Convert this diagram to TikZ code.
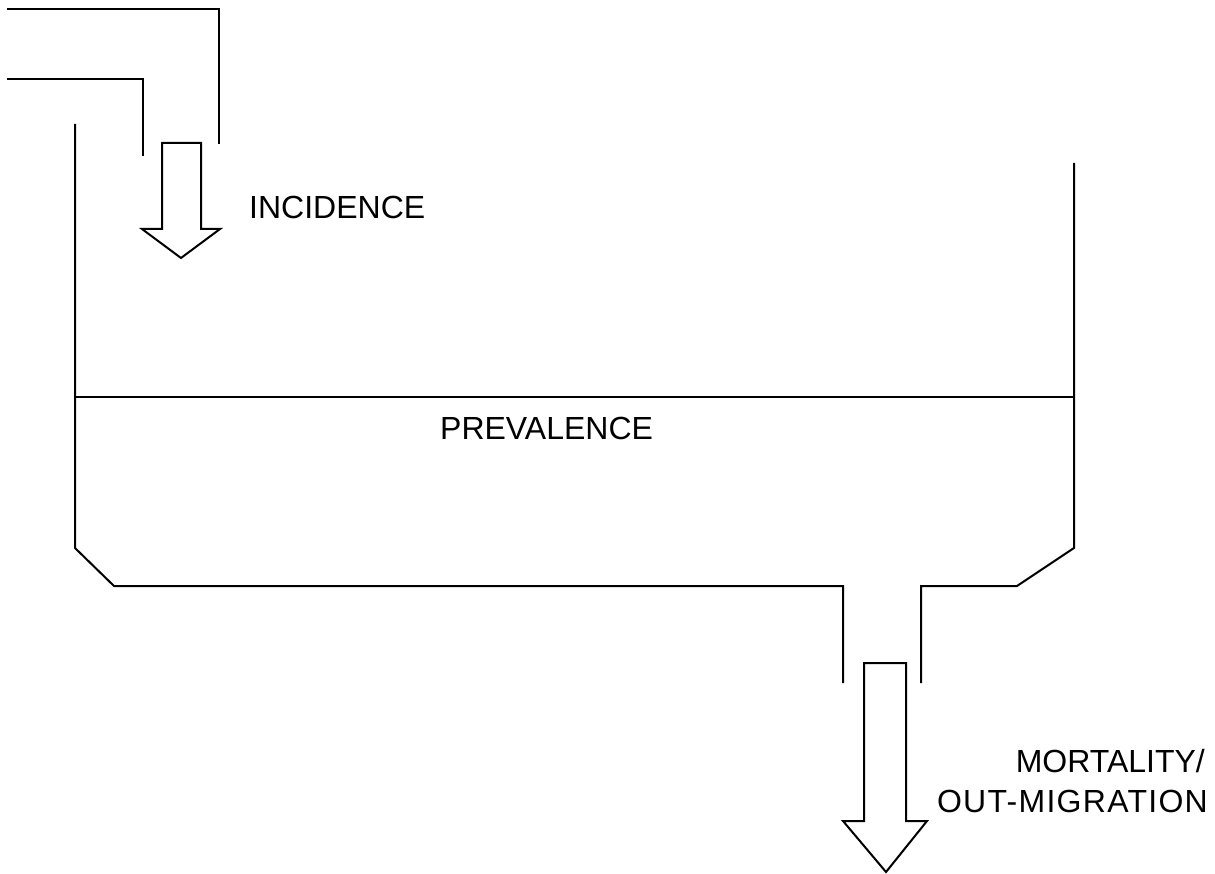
\documentclass[tikz,border=0pt]{standalone}
\usepackage{fontspec}
\setmainfont{Liberation Sans}
\begin{document}
\begin{tikzpicture}[x=1pt,y=-1pt,
  wall/.style={line width=2pt, line join=miter},
  flow/.style={line width=2pt, line join=miter, fill=white},
  lbl/.style={font=\fontsize{32}{37}\selectfont, inner sep=0pt}]
\useasboundingbox (0,0) rectangle (1215,874);
% inflow pipe
\draw[wall] (7,9) -- (219,9) -- (219,144);
\draw[wall] (7,79) -- (143,79) -- (143,156);
% tank
\draw[wall] (75,124) -- (75,548) -- (114,586) -- (843,586) -- (843,683);
\draw[wall] (921,683) -- (921,586) -- (1017,586) -- (1074,548) -- (1074,163);
\draw[wall] (75,397) -- (1074,397);
% incidence arrow
\draw[flow] (162,143) -- (201,143) -- (201,229) -- (220,229) -- (181,258) -- (142,229) -- (162,229) -- cycle;
% mortality arrow
\draw[flow] (864,663) -- (906,663) -- (906,821) -- (927,821) -- (886,872) -- (843,821) -- (864,821) -- cycle;
% labels
\node[lbl, anchor=base west] (inc) at (249,219) {INCIDENCE};
\node[lbl, anchor=base west] (prev) at (440,439) {PREVALENCE};
\node[lbl, anchor=base east] (mort) at (1205,772) {MORTALITY/};
\node[lbl, anchor=base east] (outm) at (1208,812) {\addfontfeature{LetterSpace=4}OUT-MIGRATION};
\end{tikzpicture}
\end{document}
